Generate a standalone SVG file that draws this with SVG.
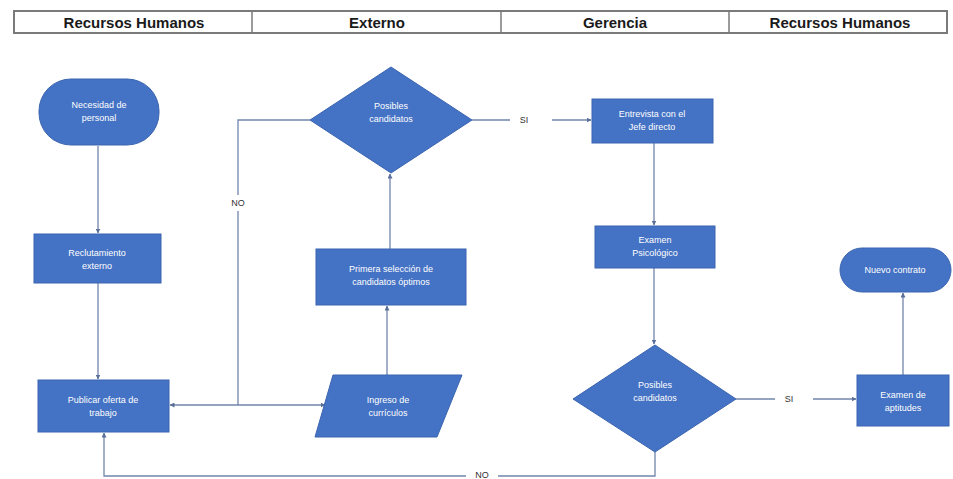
<svg xmlns="http://www.w3.org/2000/svg" width="953" height="479" viewBox="0 0 953 479">
<style>
.hdr{font-family:"Liberation Sans",Arial,sans-serif;font-weight:bold;font-size:15px;fill:#1a1a1a;text-anchor:middle}
.node{fill:#4472C4;stroke:#3b65b0;stroke-width:1}
.lbl{font-family:"Liberation Sans",Arial,sans-serif;font-size:9px;fill:#ffffff;text-anchor:middle}
.edge{fill:none;stroke:#7185ab;stroke-width:1.3}
.elbl{font-family:"Liberation Sans",Arial,sans-serif;font-size:9px;fill:#333333;text-anchor:middle}
</style>
<defs>
<marker id="arr" viewBox="0 0 10 10" refX="9" refY="5" markerWidth="5" markerHeight="5" orient="auto-start-reverse" markerUnits="userSpaceOnUse">
<path d="M0,0 L10,5 L0,10 z" fill="#5a6f99"/>
</marker>
</defs>
<rect width="953" height="479" fill="#ffffff"/>
<g id="header">
<rect x="14" y="11" width="933" height="22" fill="none" stroke="#7a7a7a" stroke-width="2"/>
<line x1="252" y1="11" x2="252" y2="33" stroke="#7a7a7a" stroke-width="1.5"/>
<line x1="501" y1="11" x2="501" y2="33" stroke="#7a7a7a" stroke-width="1.5"/>
<line x1="729" y1="11" x2="729" y2="33" stroke="#7a7a7a" stroke-width="1.5"/>
<text class="hdr" x="134" y="28">Recursos Humanos</text>
<text class="hdr" x="377" y="28">Externo</text>
<text class="hdr" x="615" y="28">Gerencia</text>
<text class="hdr" x="840" y="28">Recursos Humanos</text>
</g>
<g id="connectors">
<line class="edge" x1="98" y1="146" x2="98" y2="233" marker-end="url(#arr)"/>
<line class="edge" x1="98" y1="283" x2="98" y2="379" marker-end="url(#arr)"/>
<line class="edge" x1="170" y1="405" x2="325" y2="405" marker-start="url(#arr)" marker-end="url(#arr)"/>
<polyline class="edge" points="310,120 238,120 238,195"/>
<polyline class="edge" points="238,211 238,405"/>
<text class="elbl" x="238" y="206">NO</text>
<line class="edge" x1="387" y1="375" x2="387" y2="306" marker-end="url(#arr)"/>
<line class="edge" x1="390" y1="249" x2="390" y2="174" marker-end="url(#arr)"/>
<line class="edge" x1="472" y1="120" x2="510" y2="120"/>
<text class="elbl" x="524" y="123">SI</text>
<line class="edge" x1="552" y1="120" x2="591" y2="120" marker-end="url(#arr)"/>
<line class="edge" x1="654" y1="143" x2="654" y2="225" marker-end="url(#arr)"/>
<line class="edge" x1="654" y1="268" x2="654" y2="344" marker-end="url(#arr)"/>
<line class="edge" x1="736" y1="399" x2="775" y2="399"/>
<text class="elbl" x="789" y="402">SI</text>
<line class="edge" x1="813" y1="399" x2="856" y2="399" marker-end="url(#arr)"/>
<line class="edge" x1="903" y1="375" x2="903" y2="293" marker-end="url(#arr)"/>
<polyline class="edge" points="655,452 655,476 498,476"/>
<text class="elbl" x="482" y="478" font-size="8">NO</text>
<polyline class="edge" points="466,476 104,476 104,433" marker-end="url(#arr)"/>
</g>
<g id="necesidad">
<rect class="node" x="39" y="79" width="120" height="66" rx="32" ry="32"/>
<text class="lbl" x="99" y="108">Necesidad de</text>
<text class="lbl" x="99" y="121">personal</text>
</g>
<g id="reclutamiento">
<rect class="node" x="34" y="234" width="127" height="49"/>
<text class="lbl" x="97" y="256">Reclutamiento</text>
<text class="lbl" x="97" y="269">externo</text>
</g>
<g id="publicar">
<rect class="node" x="38" y="380" width="131" height="52"/>
<text class="lbl" x="103" y="403">Publicar oferta de</text>
<text class="lbl" x="103" y="416">trabajo</text>
</g>
<g id="ingreso">
<polygon class="node" points="333,375 462,375 437,437 315,437"/>
<text class="lbl" x="388" y="403">Ingreso de</text>
<text class="lbl" x="388" y="416">currículos</text>
</g>
<g id="primera">
<rect class="node" x="316" y="249" width="150" height="56"/>
<text class="lbl" x="391" y="272">Primera selección de</text>
<text class="lbl" x="391" y="285">candidatos óptimos</text>
</g>
<g id="posibles1">
<polygon class="node" points="391,67 472,120 391,173 310,120"/>
<text class="lbl" x="391" y="109">Posibles</text>
<text class="lbl" x="391" y="122">candidatos</text>
</g>
<g id="entrevista">
<rect class="node" x="592" y="99" width="121" height="44"/>
<text class="lbl" x="652" y="117">Entrevista con el</text>
<text class="lbl" x="652" y="130">Jefe directo</text>
</g>
<g id="psicologico">
<rect class="node" x="595" y="226" width="120" height="42"/>
<text class="lbl" x="655" y="243">Examen</text>
<text class="lbl" x="655" y="256">Psicológico</text>
</g>
<g id="posibles2">
<polygon class="node" points="655,345 736,399 655,452 573,399"/>
<text class="lbl" x="655" y="388">Posibles</text>
<text class="lbl" x="655" y="401">candidatos</text>
</g>
<g id="aptitudes">
<rect class="node" x="857" y="375" width="92" height="51"/>
<text class="lbl" x="903" y="398">Examen de</text>
<text class="lbl" x="903" y="411">aptitudes</text>
</g>
<g id="nuevo">
<rect class="node" x="840" y="248" width="111" height="44" rx="22" ry="22"/>
<text class="lbl" x="895" y="273">Nuevo contrato</text>
</g>
</svg>
